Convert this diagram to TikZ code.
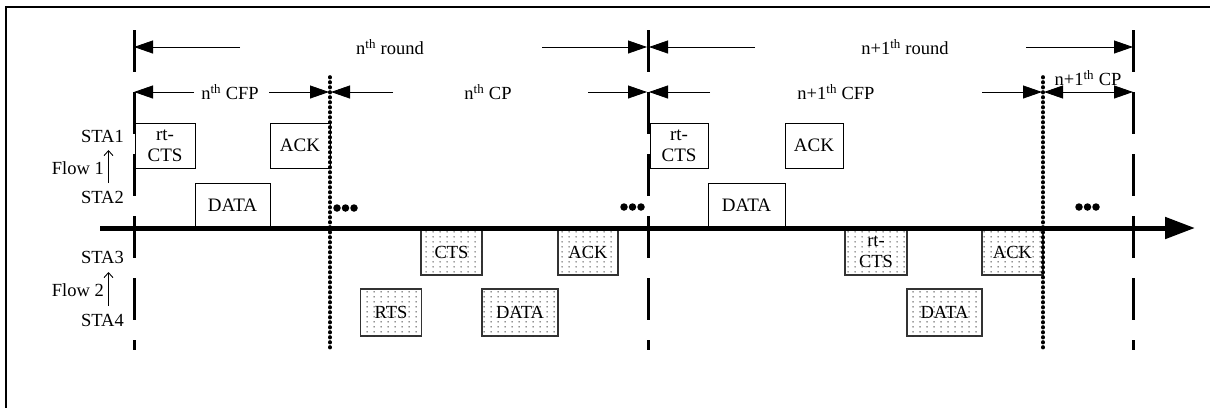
\documentclass[tikz,border=0pt]{standalone}
\usepackage{fontspec}
\setmainfont{Liberation Serif}
\usetikzlibrary{arrows.meta,patterns.meta}
\tikzdeclarepattern{
  name=sparsedots,
  type=uncolored,
  bounding box={(0pt,0pt) and (6.5pt,5pt)},
  tile size={(6.5pt,5pt)},
  code={\fill (3.25pt,2.5pt) circle (0.75pt);}
}
\tikzset{
  lbl/.style={font=\fontsize{18.5}{21}\selectfont, inner sep=0pt},
  ubox/.style={draw, line width=0.9pt, fill=white, font=\fontsize{19}{21}\selectfont, align=center, inner sep=0pt, minimum height=45pt},
  lbox/.style={draw=black!80, line width=1.4pt, fill=white, postaction={pattern=sparsedots, pattern color=black!85}, font=\fontsize{18.5}{21}\selectfont, align=center, inner sep=0pt, minimum height=46pt},
  tick/.style={line width=3pt},
  dashv/.style={line width=3pt, dash pattern=on 42pt off 20pt},
  dotv/.style={line width=3.6pt, line cap=round, dash pattern=on 0.6pt off 4.4pt},
  dimarr/.style={line width=0.8pt, -{Triangle[length=19pt,width=13pt]}},
  flowarr/.style={line width=0.9pt, -{Straight Barb[length=5pt,width=9pt]}},
  dot3/.style={fill, circle, inner sep=0pt, minimum size=7.5pt}
}
\begin{document}
\begin{tikzpicture}[x=1pt,y=-1pt]
\useasboundingbox (0,0) rectangle (1210,408);
% frame
\coordinate (fTL) at (5.5,6.5);
\coordinate (fTR) at (1210,6.5);
\coordinate (fBL) at (5.5,408);
\draw[line width=2pt] (fTR) -- (fTL) -- (fBL);

% upper boxes (flow 1)
\node[ubox, minimum width=60pt] (rt1) at (165,145.5) {rt-\\CTS};
\node[ubox, minimum width=60pt] (ack1) at (300,145.5) {ACK};
\node[ubox, minimum width=75pt] (data1) at (232.5,205.5) {DATA};
\node[ubox, minimum width=58pt] (rt2) at (679,145.5) {rt-\\CTS};
\node[ubox, minimum width=58pt] (ack2) at (814,145.5) {ACK};
\node[ubox, minimum width=77pt] (data2) at (746.5,205.5) {DATA};

% lower boxes (flow 2)
\node[lbox, minimum width=61pt] (cts1) at (451.5,252) {CTS};
\node[lbox, minimum width=60pt] (ack3) at (588,252) {ACK};
\node[lbox, minimum width=61pt, minimum height=47pt] (rts1) at (391,312.5) {RTS};
\node[lbox, minimum width=76pt, minimum height=47pt] (data3) at (520,312.5) {DATA};
\node[lbox, minimum width=62pt] (rt3) at (876,252) {rt-\\CTS};
\node[lbox, minimum width=61pt] (ack4) at (1012.5,252) {ACK};
\node[lbox, minimum width=75pt, minimum height=47pt] (data4) at (944.5,312.5) {DATA};

% round ticks
\coordinate (t0a) at (134,30); \coordinate (t0b) at (134,72);
\coordinate (t1a) at (648,30); \coordinate (t1b) at (648,72);
\coordinate (t2a) at (1133,30); \coordinate (t2b) at (1133,72);
\draw[tick] (t0a) -- (t0b);
\draw[tick] (t1a) -- (t1b);
\draw[tick] (t2a) -- (t2b);

% period boundaries
\coordinate (v0a) at (134,92); \coordinate (v0b) at (134,350);
\coordinate (v1a) at (648,92); \coordinate (v1b) at (648,350);
\coordinate (v2a) at (1133,92); \coordinate (v2b) at (1133,350);
\draw[dashv] (v0a) -- (v0b);
\draw[dashv] (v1a) -- (v1b);
\draw[dashv] (v2a) -- (v2b);
\coordinate (d0a) at (330,77); \coordinate (d0b) at (330,350);
\coordinate (d1a) at (1043,77); \coordinate (d1b) at (1043,350);
\draw[dotv] (d0a) -- (d0b);
\draw[dotv] (d1a) -- (d1b);

% time axis
\coordinate (axS) at (100,228);
\coordinate (axE) at (1195,228);
\draw[line width=5pt, -{Triangle[length=30pt,width=21pt]}] (axS) -- (axE);

% round labels and arrows
\node[lbl] (rn) at (390,47) {n\textsuperscript{th} round};
\node[lbl] (rn1) at (905,47) {n+1\textsuperscript{th} round};
\coordinate (r0) at (134,47); \coordinate (r0e) at (240,47);
\coordinate (r1) at (647,47); \coordinate (r1s) at (542,47);
\coordinate (r2) at (649,47); \coordinate (r2e) at (755,47);
\coordinate (r3) at (1133,47); \coordinate (r3s) at (1026,47);
\draw[dimarr] (r0e) -- (r0);
\draw[dimarr] (r1s) -- (r1);
\draw[dimarr] (r2e) -- (r2);
\draw[dimarr] (r3s) -- (r3);

% CFP / CP labels and arrows
\node[lbl] (cfp) at (230,92) {n\textsuperscript{th} CFP};
\node[lbl] (cp) at (488,92) {n\textsuperscript{th} CP};
\node[lbl] (cfp1) at (836,92) {n+1\textsuperscript{th} CFP};
\node[lbl] (cp1) at (1088,78) {n+1\textsuperscript{th} CP};
\coordinate (c0) at (134,92); \coordinate (c0e) at (194,92);
\coordinate (c1s) at (269,92); \coordinate (c1) at (329,92);
\coordinate (c2e) at (393,92); \coordinate (c2) at (331,92);
\coordinate (c3s) at (588,92); \coordinate (c3) at (647,92);
\coordinate (c4e) at (710,92); \coordinate (c4) at (649,92);
\coordinate (c5s) at (982,92); \coordinate (c5) at (1042,92);
\coordinate (c6) at (1044,92); \coordinate (c7) at (1133,92);
\draw[dimarr] (c0e) -- (c0);
\draw[dimarr] (c1s) -- (c1);
\draw[dimarr] (c2e) -- (c2);
\draw[dimarr] (c3s) -- (c3);
\draw[dimarr] (c4e) -- (c4);
\draw[dimarr] (c5s) -- (c5);
\draw[line width=0.8pt, {Triangle[length=19pt,width=13pt]}-{Triangle[length=19pt,width=13pt]}] (c6) -- (c7);

% station labels
\node[lbl, anchor=east] (sta1) at (124,136) {STA1};
\node[lbl, anchor=east] (sta2) at (124,197) {STA2};
\node[lbl, anchor=east] (sta3) at (124,257) {STA3};
\node[lbl, anchor=east] (sta4) at (124,320) {STA4};
\node[lbl, anchor=east] (fl1) at (104,168) {Flow 1};
\node[lbl, anchor=east] (fl2) at (104,290) {Flow 2};
\coordinate (f1a) at (108.5,183); \coordinate (f1b) at (108.5,150);
\coordinate (f2a) at (108.5,306); \coordinate (f2b) at (108.5,272);
\draw[flowarr] (f1a) -- (f1b);
\draw[flowarr] (f2a) -- (f2b);

% ellipses
\node[dot3] (e1a) at (337,208) {}; \node[dot3] (e1b) at (345.5,208) {}; \node[dot3] (e1c) at (354,208) {};
\node[dot3] (e2a) at (624,207) {}; \node[dot3] (e2b) at (632.5,207) {}; \node[dot3] (e2c) at (641,207) {};
\node[dot3] (e3a) at (1079,207) {}; \node[dot3] (e3b) at (1087.5,207) {}; \node[dot3] (e3c) at (1096,207) {};
\end{tikzpicture}
\end{document}
